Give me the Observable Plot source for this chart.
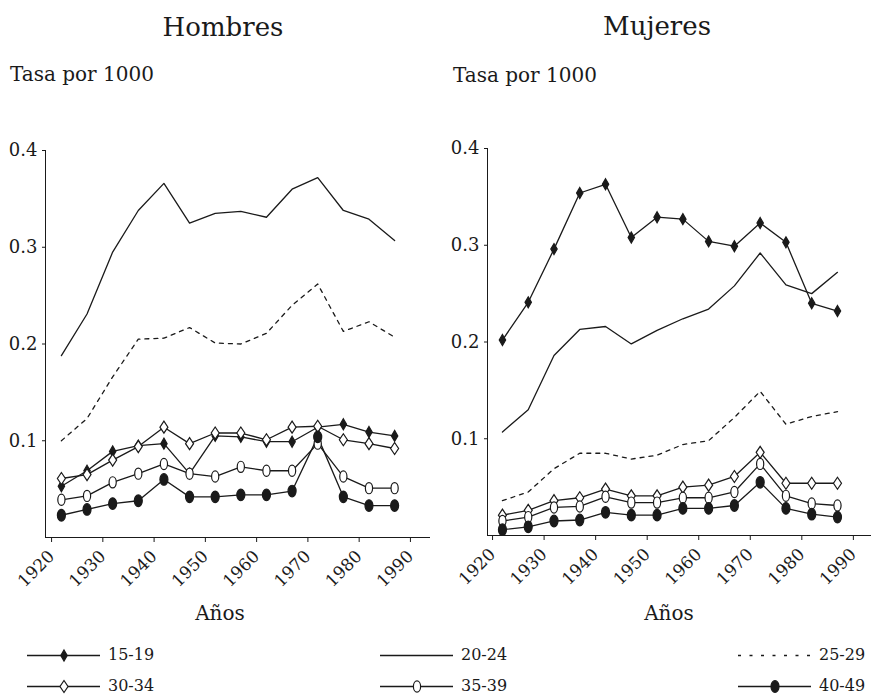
<!DOCTYPE html>
<html><head><meta charset="utf-8">
<script src="https://cdn.jsdelivr.net/npm/d3@7"></script>
<script src="https://cdn.jsdelivr.net/npm/@observablehq/plot@0.6"></script>
<style>
body{margin:0;background:#fff;}
#wrap{position:relative;width:871px;height:696px;font-family:"DejaVu Serif",serif;color:#1a1a1a;overflow:hidden;}
.t{position:absolute;white-space:nowrap;line-height:1;}
.c{transform:translateX(-50%);}
.abs{position:absolute;}
</style></head><body><div id="wrap"></div>
<script>
// ---- data ----
const years = [1922.5,1927.5,1932.5,1937.5,1942.5,1947.5,1952.5,1957.5,1962.5,1967.5,1972.5,1977.5,1982.5,1987.5];
const groups = ["15-19","20-24","25-29","30-34","35-39","40-49"];
const xTicks = [1920,1930,1940,1950,1960,1970,1980,1990];
const yTicks = [0.1,0.2,0.3,0.4];

const hombres15 = [0.053,0.069,0.089,0.095,0.097,0.066,0.105,0.104,0.099,0.099,0.114,0.117,0.109,0.105];
const hombres20 = [0.188,0.231,0.295,0.338,0.366,0.325,0.335,0.337,0.331,0.360,0.372,0.338,0.329,0.307];
const hombres25 = [0.100,0.123,0.166,0.205,0.206,0.217,0.201,0.200,0.211,0.240,0.262,0.213,0.223,0.207];
const hombres30 = [0.061,0.065,0.080,0.094,0.114,0.097,0.108,0.108,0.101,0.114,0.115,0.101,0.097,0.092];
const hombres35 = [0.039,0.043,0.057,0.066,0.076,0.066,0.063,0.073,0.069,0.069,0.097,0.063,0.051,0.051];
const hombres40 = [0.023,0.029,0.035,0.038,0.060,0.042,0.042,0.044,0.044,0.048,0.104,0.042,0.033,0.033];

const mujeres15 = [0.202,0.241,0.296,0.354,0.363,0.308,0.329,0.327,0.304,0.299,0.323,0.303,0.240,0.232];
const mujeres20 = [0.107,0.130,0.186,0.213,0.216,0.198,0.212,0.224,0.234,0.258,0.292,0.259,0.250,0.272];
const mujeres25 = [0.036,0.045,0.069,0.085,0.085,0.079,0.083,0.094,0.098,0.122,0.149,0.115,0.123,0.128];
const mujeres30 = [0.021,0.026,0.036,0.039,0.048,0.041,0.041,0.050,0.052,0.061,0.086,0.054,0.054,0.054];
const mujeres35 = [0.015,0.019,0.029,0.030,0.040,0.034,0.034,0.039,0.039,0.045,0.074,0.041,0.033,0.031];
const mujeres40 = [0.006,0.009,0.015,0.016,0.024,0.021,0.021,0.028,0.028,0.031,0.055,0.028,0.022,0.019];

// ---- styles ----
const ink = "#1a1a1a";
const FONT = "DejaVu Serif";
function diamond(hw, hh){ return {draw(ctx){ ctx.moveTo(0,-hh); ctx.lineTo(hw,0); ctx.lineTo(0,hh); ctx.lineTo(-hw,0); ctx.closePath(); }}; }
function ellipse(rx, ry){ return {draw(ctx){ const k=0.5523;
  ctx.moveTo(0,-ry);
  ctx.bezierCurveTo(k*rx,-ry, rx,-k*ry, rx,0);
  ctx.bezierCurveTo(rx,k*ry, k*rx,ry, 0,ry);
  ctx.bezierCurveTo(-k*rx,ry, -rx,k*ry, -rx,0);
  ctx.bezierCurveTo(-rx,-k*ry, -k*rx,-ry, 0,-ry);
  ctx.closePath(); }}; }
const style = {
  "15-19": {sym: diamond(3.2,5.5), fill: ink},
  "20-24": {sym: null},
  "25-29": {sym: null, dash: "4,5", legendDash: "3,8.5"},
  "30-34": {sym: diamond(4,6), fill: "#fff"},
  "35-39": {sym: ellipse(3.6,5.6), fill: "#fff"},
  "40-49": {sym: ellipse(4,5.8), fill: ink}
};

function table(vals){ return groups.flatMap((g,i)=> years.map((yr,j)=>({group:g, year:yr, value:vals[i][j]}))); }
const hombres = table([hombres15,hombres20,hombres25,hombres30,hombres35,hombres40]);
const mujeres = table([mujeres15,mujeres20,mujeres25,mujeres30,mujeres35,mujeres40]);

function panel(data, o){
  const marks = [
    Plot.ruleY([0], {stroke: ink, strokeWidth: 1}),
    Plot.ruleX([o.xd[0]], {y1: () => 0, y2: () => 0.4, stroke: ink, strokeWidth: 1}),
    Plot.axisY({ticks: yTicks, tickFormat: d3.format(".1f"), tickSize: 3, tickPadding: 5, fontSize: 18, label: null}),
    Plot.axisX({ticks: xTicks, tickFormat: d3.format("d"), tickRotate: -45, tickSize: 5, tickPadding: 11, dx: 3, fontSize: 17, label: null})
  ];
  for (const g of groups){
    const d = data.filter(r => r.group === g);
    const s = style[g];
    marks.push(Plot.line(d, {x:"year", y:"value", stroke: ink, strokeWidth: 1.3, strokeDasharray: s.dash}));
  }
  for (const g of groups){
    const d = data.filter(r => r.group === g);
    const s = style[g];
    if (s.sym) marks.push(Plot.dot(d, {x:"year", y:"value", symbol: s.sym, r: 4, fill: s.fill, stroke: ink, strokeWidth: 1.2}));
  }
  return Plot.plot({
    width: o.width, height: 460,
    marginLeft: o.ml, marginRight: o.mr, marginTop: 20, marginBottom: 53,
    x: {domain: o.xd},
    y: {domain: [0, 0.4]},
    style: {fontFamily: FONT, color: ink, background: "transparent", overflow: "visible"},
    marks
  });
}

const wrap = document.getElementById("wrap");
function text(str, x, y, size, center){
  const d = document.createElement("div");
  d.className = "t" + (center ? " c" : "");
  d.textContent = str;
  d.style.left = x + "px"; d.style.top = y + "px"; d.style.fontSize = size + "px";
  wrap.appendChild(d);
  return d;
}
function place(node, x, y){ node.classList.add("abs"); node.style.left = x+"px"; node.style.top = y+"px"; wrap.appendChild(node); }

place(panel(hombres, {width: 435, ml: 45, mr: 5, xd: [1919.4, 1994.5]}), 0, 130);
place(panel(mujeres, {width: 436, ml: 52, mr: 0, xd: [1919.6, 1994.1]}), 435, 128);

text("Hombres", 223, 14, 26, true);
text("Mujeres", 657, 13, 26, true);
text("Tasa por 1000", 10, 64, 20);
text("Tasa por 1000", 453, 65, 20);
text("Años", 220, 603, 20, true);
text("Años", 669, 603, 20, true);

// legend
const cols = [27, 380, 738];
const rows = [655, 686];
groups.forEach((g, i) => {
  const cx = cols[i % 3], cy = rows[Math.floor(i / 3)];
  const s = style[g];
  const sw = Plot.plot({
    width: 73, height: 16, margin: 0,
    x: {domain: [0, 1]}, y: {domain: [0, 1]}, axis: null,
    style: {background: "transparent", overflow: "visible"},
    marks: [
      Plot.ruleY([0.5], {stroke: ink, strokeWidth: 1.3, strokeDasharray: s.legendDash || s.dash}),
      s.sym ? Plot.dot([0.5], {x: d => d, y: () => 0.5, symbol: s.sym, r: 4, fill: s.fill, stroke: ink, strokeWidth: 1.2}) : null
    ]
  });
  place(sw, cx, cy - 8);
  const t = text(g, cx + 81, cy - 6, 16);
  t.style.lineHeight = "12px";
});
</script></body></html>
